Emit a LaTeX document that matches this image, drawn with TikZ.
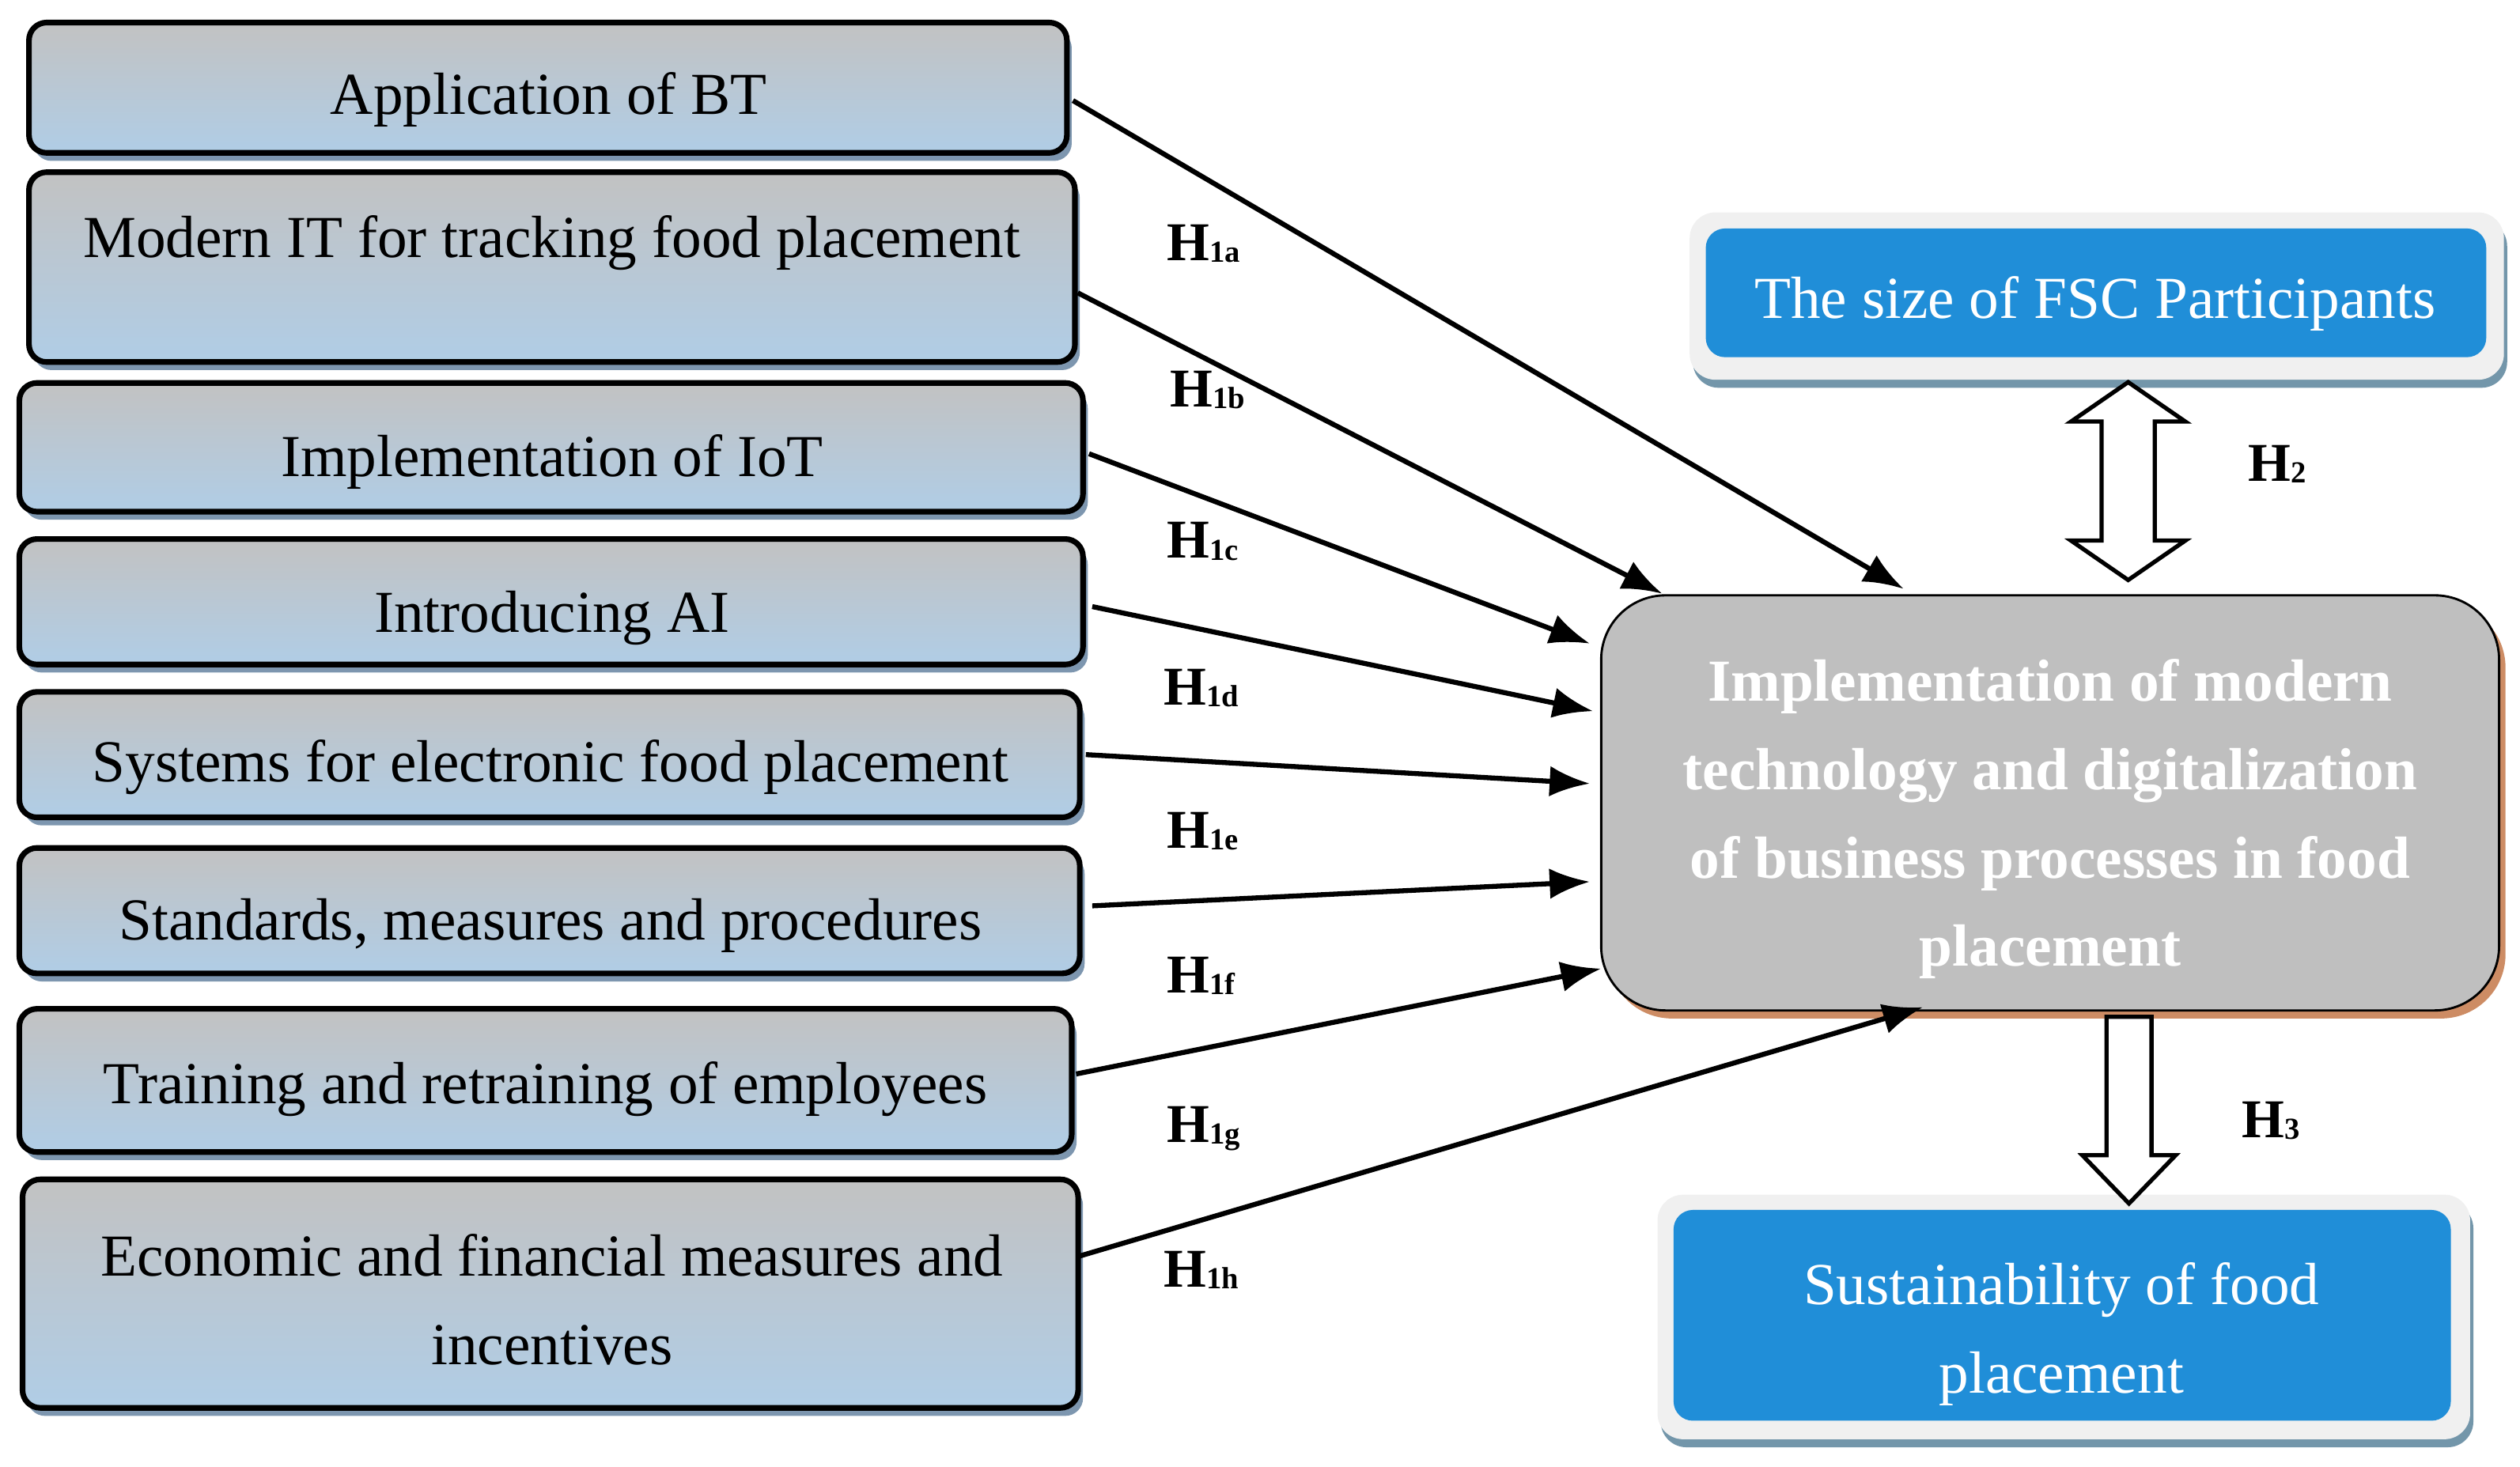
\documentclass[tikz,border=0pt]{standalone}
\usepackage{fontspec}
\setmainfont{Liberation Serif}
\usetikzlibrary{shadows,arrows.meta,calc}
\definecolor{lgray}{RGB}{194,194,194}
\definecolor{lblue}{RGB}{176,205,230}
\definecolor{shblue}{RGB}{125,150,175}
\definecolor{mgray}{RGB}{191,191,191}
\definecolor{shbrown}{RGB}{205,140,100}
\definecolor{bblue}{RGB}{32,142,216}
\definecolor{frgray}{RGB}{240,240,240}
\definecolor{shteal}{RGB}{115,150,170}
\newcommand{\hsub}[2]{H\raisebox{-1pt}{\fontsize{19}{19}\selectfont #2}}
\begin{document}
\begin{tikzpicture}[x=1pt,y=-1pt,
  lbox/.style={draw=black, line width=3.5pt, rounded corners=11pt, top color=lgray, bottom color=lblue,
    drop shadow={shadow xshift=3pt, shadow yshift=-5pt, fill=shblue, opacity=1}, inner sep=0pt},
  ltext/.style={font=\fontsize{37}{55}\selectfont, anchor=base, inner sep=0pt},
  mainbox/.style={draw=black, line width=1.4pt, rounded corners=40pt, fill=mgray,
    drop shadow={shadow xshift=4pt, shadow yshift=-5pt, fill=shbrown, opacity=1}, inner sep=0pt},
  frbox/.style={fill=frgray, rounded corners=16pt, inner sep=0pt,
    drop shadow={shadow xshift=2pt, shadow yshift=-5pt, fill=shteal, opacity=1}},
  bbox/.style={fill=bblue, rounded corners=12pt, inner sep=0pt},
  wtext/.style={font=\fontsize{37}{55}\selectfont, text=white, align=center, inner sep=0pt},
  hlab/.style={font=\fontsize{34}{34}\selectfont\bfseries, anchor=base west, inner sep=0pt},
  conn/.style={line width=3.1pt, -{Latex[length=25pt,width=19pt]}},
  fat/.style={draw=black, line width=2.6pt, fill=white, line join=miter}
]
\useasboundingbox (0,0) rectangle (1566,911.3);

% left boxes
\node[lbox, minimum width=645, minimum height=81] (b1) at (340.5,54.5) {};
\node[lbox, minimum width=650, minimum height=118] (b2) at (343,166) {};
\node[lbox, minimum width=661, minimum height=80] (b3) at (342.5,278) {};
\node[lbox, minimum width=661, minimum height=78] (b4) at (342.5,374) {};
\node[lbox, minimum width=659, minimum height=78] (b5) at (341.5,469) {};
\node[lbox, minimum width=659, minimum height=78] (b6) at (341.5,566) {};
\node[lbox, minimum width=654, minimum height=89] (b7) at (339,671.5) {};
\node[lbox, minimum width=656, minimum height=142] (b8) at (342,804) {};

\node[ltext] (t1) at (341,71) {Application of BT};
\node[ltext] (t2) at (343,160) {Modern IT for tracking food placement};
\node[ltext] (t3) at (343,296) {Implementation of IoT};
\node[ltext] (t4) at (343,393) {Introducing AI};
\node[ltext] (t5) at (342,486) {Systems for electronic food placement};
\node[ltext] (t6) at (342,584) {Standards, measures and procedures};
\node[ltext] (t7) at (339,686) {Training and retraining of employees};
\node[ltext] (t8a) at (343,793) {Economic and financial measures and};
\node[ltext] (t8b) at (343,848) {incentives};

% main box
\node[mainbox, minimum width=558, minimum height=258] (main) at (1274,499) {};
\node[wtext, font=\fontsize{37}{55}\selectfont\bfseries] (mt) at (1274,509)
  {Implementation of modern\\technology and digitalization\\of business processes in food\\placement};

% FSC box
\node[frbox, minimum width=506, minimum height=104] (fscf) at (1303,184) {};
\node[bbox, minimum width=485, minimum height=80] (fsc) at (1302.5,182) {};
\node[wtext, anchor=base] (fsct) at (1302,198) {The size of FSC Participants};

% Sustainability box
\node[frbox, minimum width=505, minimum height=152] (susf) at (1282.5,818.5) {};
\node[bbox, minimum width=483, minimum height=131] (sus) at (1281.5,817.5) {};
\node[wtext] (sust) at (1281,829) {Sustainability of food\\placement};

% connectors
\coordinate (ea) at (1183,366);
\coordinate (eb) at (1033,369);
\coordinate (ec) at (988,400);
\coordinate (ed) at (990,442);
\coordinate (ee) at (988,487);
\coordinate (ef) at (988,548);
\coordinate (eg) at (995,602);
\coordinate (eh) at (1195,626);
\draw[conn] ($(b1.east)+(2,8)$) -- (ea);
\draw[conn] ($(b2.east)+(0,16)$) -- (eb);
\draw[conn] ($(b3.east)+(2,4)$) -- (ec);
\draw[conn] ($(b4.east)+(4,3)$) -- (ed);
\draw[conn] ($(b5.east)+(2,0)$) -- (ee);
\draw[conn] ($(b6.east)+(6,-3)$) -- (ef);
\draw[conn] ($(b7.east)+(1,-4)$) -- (eg);
\draw[conn] ($(b8.east)+(-2,-23)$) -- (eh);

% hypothesis labels
\node[hlab] (h1a) at (725,162) {\hsub{H}{1a}};
\node[hlab] (h1b) at (727,253) {\hsub{H}{1b}};
\node[hlab] (h1c) at (725,347) {\hsub{H}{1c}};
\node[hlab] (h1d) at (723,438) {\hsub{H}{1d}};
\node[hlab] (h1e) at (725,527) {\hsub{H}{1e}};
\node[hlab] (h1f) at (725,617) {\hsub{H}{1f}};
\node[hlab] (h1g) at (725,710) {\hsub{H}{1g}};
\node[hlab] (h1h) at (723,800) {\hsub{H}{1h}};
\node[hlab] (h2) at (1397,299) {\hsub{H}{2}};
\node[hlab] (h3) at (1393,707) {\hsub{H}{3}};

% block arrows
\draw[fat] (1322.5,237.5) -- (1358,262) -- (1339,262) -- (1339,336) -- (1358,336) -- (1322.5,360.5)
  -- (1287,336) -- (1306,336) -- (1306,262) -- (1287,262) -- cycle;
\draw[fat] (1309,632) -- (1337,632) -- (1337,718) -- (1352,718) -- (1323,748) -- (1294,718)
  -- (1309,718) -- cycle;
\end{tikzpicture}
\end{document}
